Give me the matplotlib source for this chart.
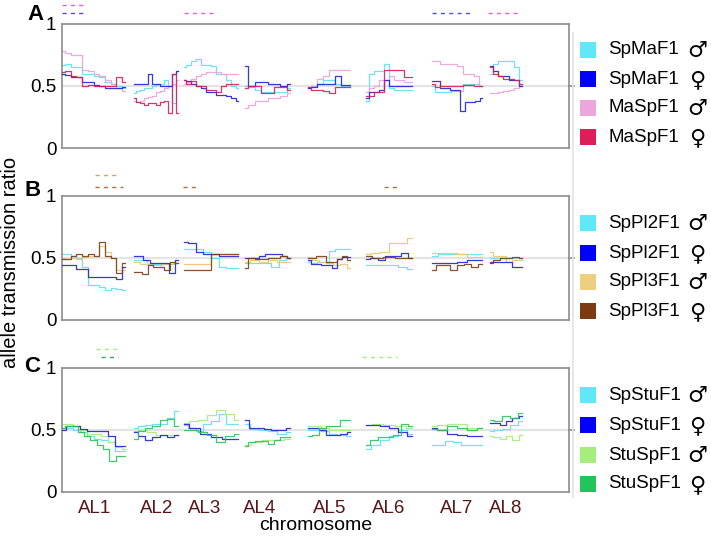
import numpy as np
import matplotlib
matplotlib.use("Agg")
import matplotlib.pyplot as plt
from matplotlib.patches import Rectangle
from matplotlib.lines import Line2D

plt.rcParams['font.family'] = ['Liberation Sans', 'DejaVu Sans']

# ---------------- data ----------------
chromosomes = ["AL1", "AL2", "AL3", "AL4", "AL5", "AL6", "AL7", "AL8"]
chrom_start = [0, 72, 122, 183, 246, 304, 370, 428]
chrom_end = [63, 116, 176, 228, 288, 350, 420, 460]
tick_pos = [33, 95, 143, 198, 268, 327, 395, 444]
x_max = 507

# Panel A
A_SpMaF1_m = [
    [0.67, 0.68, 0.65, 0.65, 0.60, 0.60, 0.58, 0.57, 0.53, 0.52, 0.50, 0.48],
    [0.44, 0.46, 0.47, 0.48, 0.48, 0.50, 0.52, 0.52, 0.55, 0.50, 0.36, 0.62],
    [0.65, 0.67, 0.70, 0.72, 0.67, 0.67, 0.66, 0.60, 0.60, 0.55, 0.50, 0.48],
    [0.50, 0.49, 0.47, 0.45, 0.45, 0.45, 0.45, 0.48],
    [0.49, 0.50, 0.52, 0.55, 0.55, 0.52, 0.50, 0.50],
    [0.38, 0.60, 0.62, 0.62, 0.68, 0.48, 0.47, 0.47, 0.47, 0.47],
    [0.50, 0.45, 0.45, 0.45, 0.46, 0.46, 0.52, 0.52, 0.52, 0.50],
    [0.60, 0.68, 0.70, 0.70, 0.70, 0.65, 0.55],
]
A_SpMaF1_f = [
    [0.60, 0.59, 0.57, 0.57, 0.53, 0.53, 0.51, 0.50, 0.48, 0.48, 0.48, 0.49],
    [0.52, 0.52, 0.52, 0.52, 0.60, 0.52, 0.52, 0.50, 0.50, 0.50, 0.60, 0.62],
    [0.55, 0.54, 0.52, 0.50, 0.48, 0.45, 0.45, 0.43, 0.43, 0.42, 0.40, 0.38],
    [0.66, 0.50, 0.53, 0.53, 0.52, 0.52, 0.50, 0.52],
    [0.48, 0.49, 0.52, 0.52, 0.52, 0.58, 0.51, 0.51],
    [0.40, 0.45, 0.45, 0.47, 0.55, 0.50, 0.50, 0.50, 0.50, 0.50],
    [0.54, 0.54, 0.48, 0.48, 0.47, 0.47, 0.30, 0.37, 0.37, 0.38, 0.40],
    [0.66, 0.62, 0.58, 0.58, 0.55, 0.55, 0.50],
]
A_MaSpF1_m = [
    [0.78, 0.77, 0.75, 0.75, 0.63, 0.62, 0.60, 0.58, 0.55, 0.52, 0.48, 0.46],
    [0.38, 0.37, 0.38, 0.40, 0.41, 0.42, 0.45, 0.46, 0.48, 0.50, 0.52, 0.55],
    [0.52, 0.53, 0.56, 0.58, 0.60, 0.61, 0.61, 0.61, 0.60, 0.60, 0.60, 0.60],
    [0.32, 0.35, 0.38, 0.38, 0.40, 0.40, 0.42, 0.44],
    [0.48, 0.50, 0.56, 0.58, 0.63, 0.63, 0.63, 0.63],
    [0.45, 0.48, 0.50, 0.55, 0.55, 0.58, 0.55, 0.55, 0.53, 0.53],
    [0.70, 0.70, 0.68, 0.68, 0.68, 0.66, 0.60, 0.60, 0.58, 0.50],
    [0.44, 0.44, 0.45, 0.46, 0.47, 0.48, 0.50],
]
A_MaSpF1_f = [
    [0.61, 0.62, 0.58, 0.57, 0.50, 0.51, 0.50, 0.50, 0.50, 0.50, 0.57, 0.53],
    [0.40, 0.37, 0.36, 0.35, 0.36, 0.36, 0.35, 0.37, 0.38, 0.28, 0.60, 0.28],
    [0.55, 0.52, 0.54, 0.50, 0.50, 0.47, 0.47, 0.45, 0.50, 0.52, 0.52, 0.52],
    [0.48, 0.50, 0.50, 0.44, 0.44, 0.49, 0.49, 0.47],
    [0.49, 0.47, 0.47, 0.46, 0.44, 0.49, 0.49, 0.49],
    [0.42, 0.42, 0.45, 0.45, 0.63, 0.63, 0.63, 0.63, 0.57, 0.57],
    [0.52, 0.49, 0.50, 0.50, 0.50, 0.50, 0.51, 0.51, 0.50, 0.50],
    [0.65, 0.60, 0.58, 0.56, 0.56, 0.55, 0.52],
]

# Panel B
B_SpPl2F1_m = [
    [0.53, 0.53, 0.52, 0.50, 0.43, 0.28, 0.28, 0.27, 0.24, 0.26, 0.25, 0.24],
    [0.48, 0.48, 0.45, 0.45, 0.45, 0.46],
    [0.57, 0.57, 0.57, 0.55, 0.50, 0.43, 0.42, 0.42],
    [0.46, 0.46, 0.46, 0.46, 0.43, 0.48, 0.50],
    [0.47, 0.46, 0.47, 0.47, 0.56, 0.57, 0.57, 0.57],
    [0.44, 0.44, 0.44, 0.44, 0.43, 0.41],
    [0.52, 0.53, 0.53, 0.53, 0.53],
    [0.50, 0.50, 0.50, 0.50],
]
B_SpPl2F1_f = [
    [0.44, 0.44, 0.44, 0.41, 0.41, 0.35, 0.35, 0.35, 0.35, 0.35, 0.33, 0.43],
    [0.52, 0.52, 0.48, 0.46, 0.46, 0.46, 0.38, 0.48],
    [0.63, 0.62, 0.55, 0.53, 0.53, 0.52, 0.52, 0.52],
    [0.50, 0.50, 0.50, 0.52, 0.53, 0.53, 0.53, 0.52, 0.50],
    [0.48, 0.45, 0.45, 0.44, 0.44, 0.42, 0.49, 0.51, 0.51],
    [0.49, 0.50, 0.48, 0.52, 0.52, 0.54, 0.50],
    [0.46, 0.46, 0.46, 0.47, 0.48, 0.48],
    [0.47, 0.47, 0.47, 0.47, 0.43, 0.43],
]
B_SpPl3F1_m = [
    [0.50, 0.49, 0.50, 0.49, 0.51, 0.52, 0.52, 0.60, 0.55, 0.50, 0.40, 0.40],
    [0.47, 0.45, 0.44, 0.45, 0.46],
    [0.45, 0.45, 0.45, 0.45, 0.53, 0.53, 0.53, 0.53],
    [0.47, 0.48, 0.47, 0.48, 0.47, 0.47],
    [0.51, 0.48, 0.47, 0.46, 0.44, 0.45, 0.42],
    [0.53, 0.54, 0.55, 0.62, 0.62, 0.66],
    [0.54, 0.54, 0.54, 0.53, 0.51, 0.51],
    [0.55, 0.52, 0.52, 0.47, 0.48, 0.48],
]
B_SpPl3F1_f = [
    [0.49, 0.49, 0.52, 0.53, 0.52, 0.53, 0.52, 0.63, 0.52, 0.50, 0.38, 0.46],
    [0.39, 0.39, 0.37, 0.44, 0.43, 0.43, 0.40, 0.47, 0.46],
    [0.40, 0.40, 0.40, 0.40, 0.53, 0.53, 0.53, 0.53],
    [0.42, 0.50, 0.49, 0.49, 0.50, 0.50, 0.52, 0.50],
    [0.50, 0.50, 0.52, 0.52, 0.47, 0.47, 0.49, 0.52, 0.48],
    [0.52, 0.50, 0.51, 0.50, 0.50],
    [0.40, 0.44, 0.44, 0.40, 0.44, 0.45, 0.43, 0.45],
    [0.46, 0.48, 0.50, 0.50, 0.51, 0.50],
]

# Panel C
C_SpStuF1_m = [
    [0.52, 0.52, 0.50, 0.48, 0.45, 0.43, 0.42, 0.40, 0.33, 0.33],
    [0.52, 0.53, 0.54, 0.55, 0.55, 0.60, 0.65],
    [0.54, 0.52, 0.49, 0.55, 0.57, 0.63, 0.55, 0.55],
    [0.55, 0.51, 0.50, 0.49, 0.47, 0.48],
    [0.50, 0.50, 0.49, 0.47, 0.46, 0.45],
    [0.35, 0.38, 0.42, 0.45, 0.50, 0.47],
    [0.38, 0.38, 0.41, 0.40, 0.38, 0.38, 0.38],
    [0.49, 0.50, 0.51, 0.54, 0.57],
]
C_SpStuF1_f = [
    [0.50, 0.53, 0.53, 0.51, 0.49, 0.49, 0.49, 0.45, 0.37, 0.37],
    [0.48, 0.45, 0.42, 0.44, 0.46, 0.44, 0.46],
    [0.55, 0.52, 0.47, 0.44, 0.43, 0.43],
    [0.58, 0.52, 0.52, 0.51, 0.50, 0.50, 0.52],
    [0.52, 0.52, 0.50, 0.46, 0.46, 0.47, 0.48],
    [0.54, 0.54, 0.53, 0.52, 0.48, 0.45],
    [0.52, 0.50, 0.47, 0.46, 0.45, 0.45],
    [0.56, 0.56, 0.54, 0.57, 0.60, 0.61],
]
C_StuSpF1_m = [
    [0.55, 0.55, 0.53, 0.50, 0.47, 0.47, 0.45, 0.40, 0.36, 0.35],
    [0.49, 0.50, 0.48, 0.46, 0.46, 0.46],
    [0.56, 0.57, 0.58, 0.62, 0.66, 0.63, 0.58],
    [0.38, 0.40, 0.42, 0.42, 0.43],
    [0.53, 0.53, 0.52, 0.50, 0.50, 0.50],
    [0.54, 0.55, 0.54, 0.53, 0.52],
    [0.53, 0.54, 0.55, 0.55, 0.52, 0.52],
    [0.45, 0.44, 0.43, 0.45, 0.42, 0.46],
]
C_StuSpF1_f = [
    [0.52, 0.53, 0.53, 0.48, 0.45, 0.42, 0.38, 0.35, 0.25, 0.29, 0.29],
    [0.43, 0.49, 0.52, 0.53, 0.58, 0.59, 0.53],
    [0.50, 0.50, 0.48, 0.46, 0.40, 0.45, 0.47],
    [0.37, 0.40, 0.41, 0.41, 0.39, 0.42, 0.44, 0.44],
    [0.45, 0.46, 0.52, 0.53, 0.53, 0.58, 0.58],
    [0.38, 0.42, 0.44, 0.44, 0.46, 0.55, 0.53],
    [0.51, 0.50, 0.53, 0.52, 0.50, 0.52],
    [0.58, 0.57, 0.61, 0.60, 0.64],
]

# series labels / sexes
A_labels = ["SpMaF1", "SpMaF1", "MaSpF1", "MaSpF1"]
B_labels = ["SpPl2F1", "SpPl2F1", "SpPl3F1", "SpPl3F1"]
C_labels = ["SpStuF1", "SpStuF1", "StuSpF1", "StuSpF1"]
sexes = ["\u2642", "\u2640", "\u2642", "\u2640"]

# significance marks: (start, end, row, series index)
A_sig = [(0, 21, 0, 2), (0, 21, 1, 1), (122, 151, 1, 2), (370, 410, 1, 1), (426, 458, 1, 2)]
B_sig = [(33, 56, 0, 2), (33, 61, 1, 3), (121, 135, 1, 3), (322, 335, 1, 3)]
C_sig = [(34, 56, 0, 2), (39, 56, 1, 3), (300, 335, 1, 2)]

# ---------------- styles ----------------
line_colors = {
    "A": ["#5fe0f0", "#2222d8", "#eaa2da", "#d42058"],
    "B": ["#5fe0f0", "#2222d8", "#e8c878", "#7a4018"],
    "C": ["#5fe0f0", "#2222d8", "#a6ee7c", "#2ec25c"],
}
patch_colors = {
    "A": ["#5fe8f5", "#0000ff", "#eba6db", "#dc1e5a"],
    "B": ["#5fe8f5", "#0000ff", "#edcf80", "#7b3a12"],
    "C": ["#5fe8f5", "#0000ff", "#a6ee7c", "#22c55a"],
}
sig_colors = {
    "A": ["#5fe0f0", "#5050d8", "#e060e0", "#d42058"],
    "B": ["#5fe0f0", "#2222d8", "#d8a070", "#b87040"],
    "C": ["#5fe0f0", "#2222d8", "#a6ee7c", "#2ea85c"],
}

panels = [
    ("A", [A_SpMaF1_m, A_SpMaF1_f, A_MaSpF1_m, A_MaSpF1_f], A_labels, A_sig),
    ("B", [B_SpPl2F1_m, B_SpPl2F1_f, B_SpPl3F1_m, B_SpPl3F1_f], B_labels, B_sig),
    ("C", [C_SpStuF1_m, C_SpStuF1_f, C_StuSpF1_m, C_StuSpF1_f], C_labels, C_sig),
]

W, H = 711, 540
fig = plt.figure(figsize=(W / 100, H / 100), dpi=100)

ax_tops = [24, 196, 368]
ax_h = 124
ax_left, ax_w = 62, 507
legend_rows = [[50, 79, 108, 137], [223, 253, 282, 311], [395, 425, 455, 484]]
letter_pos = [(36, 14), (33, 191), (32, 366)]
sig_rows = [[1.155, 1.09], [1.17, 1.075], [1.153, 1.09]]

for pi, (name, series, labels, sigs) in enumerate(panels):
    top = ax_tops[pi]
    ax = fig.add_axes([ax_left / W, 1 - (top + ax_h) / H, ax_w / W, ax_h / H])
    ax.set_xlim(0, x_max)
    ax.set_ylim(0, 1)
    ax.axhline(0.5, color="#e4e4e4", lw=1.6, zorder=0)
    for si, s in enumerate(series):
        for ci, vals in enumerate(s):
            xs = np.linspace(chrom_start[ci], chrom_end[ci], len(vals))
            ax.plot(xs, vals, color=line_colors[name][si], lw=0.9, alpha=0.9,
                    drawstyle="steps-mid", zorder=2 + (si % 2))
    for (x0, x1, row, si) in sigs:
        ax.plot([x0, x1], [sig_rows[pi][row]] * 2, color=sig_colors[name][si],
                lw=1.0, ls=(0, (3, 3)), clip_on=False)
    for sp in ax.spines.values():
        sp.set_color("#8c8c8c")
        sp.set_linewidth(1.2)
    ax.set_yticks([0, 0.5, 1])
    ax.set_yticklabels(["0", "0.5", "1"], fontsize=13.5)
    ax.tick_params(axis="y", length=0, pad=4)
    ax.plot([1.0, 1.01], [0.5, 0.5], color="#8c8c8c", lw=1.2,
            transform=ax.get_yaxis_transform(), clip_on=False)
    if pi < 2:
        ax.set_xticks([])
    else:
        ax.set_xticks(tick_pos)
        ax.set_xticklabels(chromosomes, fontsize=13.5, color="#5a1418")
        ax.tick_params(axis="x", length=0, pad=6)
    lx, ly = letter_pos[pi]
    fig.text(lx / W, 1 - ly / H, name, fontsize=16, fontweight="bold",
             ha="center", va="center")
    # legend
    for k in range(4):
        yc = legend_rows[pi][k]
        fig.add_artist(Rectangle(((580) / W, 1 - (yc + 8) / H), 16 / W, 16 / H,
                                 transform=fig.transFigure,
                                 facecolor=patch_colors[name][k], edgecolor="none"))
        fig.text(608 / W, 1 - yc / H, labels[k], fontsize=13.5, ha="left", va="center")
        fig.text(697 / W, 1 - (yc + 1) / H, sexes[k], fontsize=16, ha="center",
                 va="center", family=["DejaVu Sans"])

# separator line
fig.add_artist(Line2D([573 / W, 573 / W], [1 - 33 / H, 1 - 497 / H],
                      transform=fig.transFigure, color="#e2e2e2", lw=1.2))

fig.text(11 / W, 1 - 262 / H, "allele transmission ratio", rotation=90,
         fontsize=14.5, ha="center", va="center")
fig.text(316 / W, 1 - 525 / H, "chromosome", fontsize=14, ha="center", va="center")

fig.savefig("out.png", dpi=100)
